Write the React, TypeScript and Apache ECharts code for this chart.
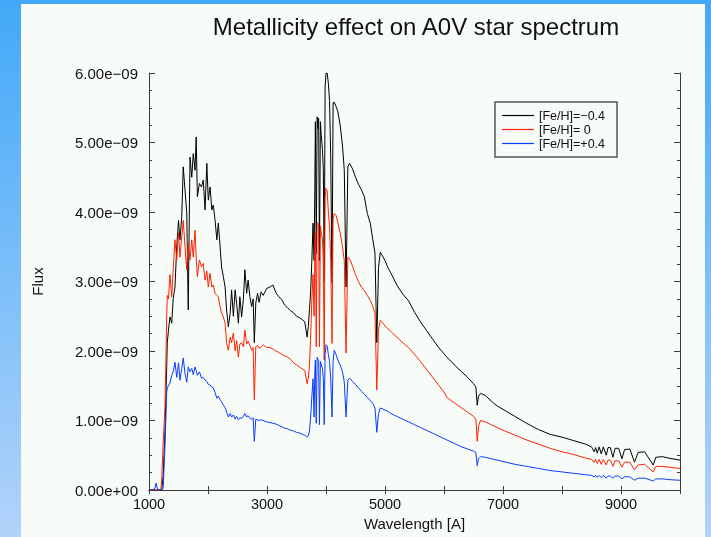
import React, { useEffect, useRef } from "react";
import * as echarts from "echarts";

// Wavelength grid in Angstrom (shared by all three spectra)
const wavelength = [
  1000, 1050, 1100, 1120, 1140, 1160, 1200, 1215, 1240, 1270, 1285, 1300,
  1310, 1330, 1355, 1385, 1410, 1440, 1470, 1500, 1525, 1555,
  1580, 1610, 1640, 1665, 1695, 1725, 1750, 1780, 1800, 1820,
  1855, 1890, 1920, 1950, 1980, 2005, 2035, 2065, 2090, 2120,
  2150, 2175, 2205, 2230, 2260, 2290, 2315, 2345, 2375, 2400,
  2430, 2460, 2485, 2515, 2540, 2570, 2600, 2625, 2655, 2680,
  2710, 2740, 2765, 2785, 2810, 2840, 2865, 2900, 2935, 2995,
  3050, 3100, 3150, 3200, 3250, 3300, 3350, 3400, 3450, 3500, 3550, 3600, 3640, 3680, 3700,
  3720, 3740, 3760, 3780, 3798, 3810, 3820, 3835, 3850, 3865,
  3875, 3889, 3905, 3920, 3940, 3955, 3970, 3985, 4000, 4020,
  4040, 4060, 4080, 4102, 4120, 4140, 4170, 4200, 4240, 4280,
  4310, 4340, 4370, 4400, 4450, 4500, 4550, 4600, 4650, 4700,
  4750, 4790, 4830, 4861, 4890, 4920, 4950,
  5000, 5050, 5100, 5200, 5300, 5400, 5500, 5600, 5700, 5800,
  5900, 6000, 6050, 6100, 6200, 6300, 6400, 6500, 6540, 6563,
  6585, 6620, 6700, 6800, 6900, 7000, 7200, 7400, 7600, 7800,
  8000, 8200, 8400, 8500, 8545, 8570, 8598, 8630, 8665, 8700,
  8750, 8780, 8820, 8863, 8900, 8960, 9015, 9060, 9150, 9229,
  9290, 9400, 9546, 9590, 9700, 9800, 10000,
];

// Flux in units of 1e-9
const fluxMinus04 = [
  0, 0, 0, 0, 0, 0, 0, 0, 0.2, 0.82, 1.3, 1.77,
  2.12, 2.3, 2.49, 2.4, 2.75, 2.92, 3.5, 3.88, 3.6, 3.93,
  4.65, 4.32, 3.99, 2.59, 4.79, 4.5, 4.84, 4.6, 5.08, 4.22,
  4.41, 4.36, 4.46, 4.03, 4.7, 4.17, 4.36, 4.03, 4.1, 3.88,
  3.6, 3.84, 3.5, 3.21, 3.07, 2.92, 2.59, 2.35, 2.54, 2.88,
  2.5, 2.88, 2.69, 2.4, 2.78, 2.49, 2.75, 3.17, 2.83, 3.02,
  2.78, 2.64, 2.75, 2.12, 2.69, 2.83, 2.7, 2.85, 2.8, 2.9,
  2.92, 2.95, 2.84, 2.78, 2.74, 2.66, 2.62, 2.58, 2.55, 2.5, 2.48, 2.45, 2.42, 2.2, 2.35,
  2.6, 2.85, 3.3, 3.84, 3.3, 4.3, 5.3, 3.4, 5.37, 5.2,
  5.35, 3.3, 5.3, 5.1, 4.9, 4.6, 3.0, 5.8, 6.0, 6.0,
  5.85, 5.6, 4.8, 2.98, 5.57, 5.58, 5.52, 5.45, 5.25, 4.95,
  4.6, 2.92, 4.65, 4.7, 4.62, 4.5, 4.4, 4.32, 4.22, 3.98,
  3.84, 3.62, 3.41, 2.12, 3.2, 3.42, 3.38,
  3.3, 3.2, 3.12, 2.95, 2.82, 2.72, 2.56, 2.42, 2.3, 2.18,
  2.06, 1.96, 1.91, 1.87, 1.78, 1.7, 1.62, 1.53, 1.48, 1.22,
  1.35, 1.39, 1.36, 1.28, 1.21, 1.16, 1.06, 0.96, 0.87, 0.8,
  0.76, 0.71, 0.66, 0.62, 0.55, 0.61, 0.53, 0.62, 0.52, 0.62,
  0.5, 0.61, 0.61, 0.47, 0.6, 0.6, 0.45, 0.58, 0.59, 0.4,
  0.54, 0.55, 0.36, 0.47, 0.48, 0.46, 0.43,
];

const fluxSolar = [
  0, 0, 0, 0, 0, 0, 0, 0.14, 0.68, 1.19, 1.77, 2.49,
  2.8, 2.75, 3.1, 2.78, 3.17, 3.6, 3.31, 3.7, 3.35, 3.64,
  3.88, 3.5, 3.17, 3.55, 3.31, 3.6, 3.35, 3.74, 3.35, 3.07,
  3.31, 3.21, 3.26, 3.02, 3.15, 2.92, 3.12, 2.92, 2.95, 2.83,
  2.8, 2.78, 2.64, 2.54, 2.49, 2.4, 2.12, 2.01, 2.2, 2.12,
  2.26, 2.0, 2.15, 1.91, 2.1, 2.12, 2.06, 2.3, 2.1, 2.14,
  2.08, 2.01, 2.05, 1.3, 2.06, 2.08, 2.04, 2.06, 2.09, 2.05,
  2.05, 2.03, 2.0, 1.98, 1.95, 1.93, 1.91, 1.88, 1.83, 1.8, 1.77, 1.74, 1.72, 1.53, 1.6,
  1.8, 2.2, 2.73, 3.1, 2.5, 3.31, 3.7, 2.06, 3.84, 3.84,
  3.8, 2.06, 3.8, 3.7, 3.6, 3.3, 1.87, 4.2, 4.34, 4.3,
  4.0, 3.8, 3.3, 2.11, 3.9, 3.98, 3.95, 3.85, 3.7, 3.5,
  3.3, 1.97, 3.35, 3.33, 3.22, 3.1, 3.0, 2.92, 2.87, 2.8,
  2.73, 2.65, 2.54, 1.44, 2.3, 2.44, 2.42,
  2.36, 2.32, 2.28, 2.2, 2.12, 2.05, 1.95, 1.85, 1.74, 1.63,
  1.52, 1.41, 1.33, 1.3, 1.24, 1.18, 1.12, 1.06, 1.02, 0.7,
  0.92, 1.0, 0.98, 0.94, 0.9, 0.86, 0.79, 0.72, 0.66, 0.6,
  0.55, 0.51, 0.46, 0.44, 0.4, 0.44, 0.38, 0.44, 0.37, 0.44,
  0.36, 0.43, 0.43, 0.34, 0.42, 0.42, 0.33, 0.4, 0.4, 0.29,
  0.36, 0.37, 0.26, 0.34, 0.34, 0.33, 0.31,
];

const fluxPlus04 = [
  0, 0, 0.02, 0.1, 0.03, 0, 0, 0, 0.02, 0.62, 1.0, 1.4,
  1.47, 1.5, 1.54, 1.65, 1.7, 1.84, 1.62, 1.83, 1.58, 1.75,
  1.9, 1.68, 1.55, 1.77, 1.7, 1.75, 1.66, 1.77, 1.72, 1.65,
  1.7, 1.61, 1.62, 1.58, 1.56, 1.52, 1.51, 1.48, 1.47, 1.4,
  1.32, 1.35, 1.3, 1.27, 1.22, 1.19, 1.12, 1.05, 1.1, 1.05,
  1.08, 1.02, 1.06, 1.01, 1.04, 1.03, 1.06, 1.1, 1.05, 1.07,
  1.03, 1.02, 1.04, 0.7, 1.02, 1.01, 1.0, 1.01, 1.0, 0.98,
  0.97, 0.96, 0.95, 0.93, 0.91, 0.89, 0.88, 0.86, 0.85, 0.83, 0.82, 0.8, 0.79, 0.76, 0.78,
  0.85, 1.05, 1.34, 1.6, 1.05, 1.7, 1.87, 0.96, 1.91, 1.88,
  1.85, 0.94, 1.85, 1.8, 1.75, 1.6, 0.94, 1.95, 2.09, 2.07,
  1.95, 1.85, 1.6, 1.05, 1.85, 2.01, 1.95, 1.87, 1.8, 1.7,
  1.55, 1.05, 1.58, 1.61, 1.56, 1.52, 1.47, 1.42, 1.38, 1.33,
  1.29, 1.25, 1.18, 0.83, 1.1, 1.18, 1.17,
  1.15, 1.13, 1.1, 1.06, 1.02, 0.98, 0.94, 0.9, 0.86, 0.82,
  0.78, 0.74, 0.72, 0.7, 0.66, 0.62, 0.59, 0.56, 0.54, 0.35,
  0.45, 0.48, 0.47, 0.45, 0.43, 0.41, 0.37, 0.34, 0.31, 0.28,
  0.26, 0.24, 0.22, 0.21, 0.19, 0.21, 0.18, 0.21, 0.18, 0.21,
  0.17, 0.2, 0.2, 0.17, 0.2, 0.2, 0.16, 0.19, 0.19, 0.14,
  0.17, 0.17, 0.13, 0.16, 0.16, 0.15, 0.14,
];

const seriesNames = ["[Fe/H]=\u22120.4", "[Fe/H]= 0", "[Fe/H]=+0.4"];
const seriesColors = ["#000000", "#ff2200", "#0a3cff"];
const seriesFlux = [fluxMinus04, fluxSolar, fluxPlus04];

const FONT = "'Liberation Sans', Arial, Helvetica, sans-serif";

export default function App() {
  const ref = useRef<HTMLDivElement>(null);
  useEffect(() => {
    if (!ref.current) return;
    const chart = echarts.init(ref.current, undefined, { renderer: "svg" });
    const axisColor = "#3a3a3a";
    const yFmt = (v: number) => (v === 0 ? "0.00e+00" : `${v.toFixed(2)}e\u221209`);
    chart.setOption({
      animation: false,
      textStyle: { fontFamily: FONT },
      graphic: [
        {
          type: "rect",
          silent: true,
          z: -10,
          shape: { x: 0, y: 0, width: 711, height: 537 },
          style: {
            fill: new echarts.graphic.LinearGradient(0, 0, 0, 1, [
              { offset: 0, color: "#42a9f8" },
              { offset: 1, color: "#b2d3fa" },
            ]),
          },
        },
        {
          type: "rect",
          silent: true,
          z: -9,
          shape: { x: 21, y: 4, width: 684, height: 533 },
          style: { fill: "#f8fcf8" },
        },
      ],
      title: {
        text: "Metallicity effect on A0V star spectrum",
        left: 411,
        top: 9,
        textAlign: "center",
        textStyle: { fontFamily: FONT, fontSize: 24, fontWeight: "normal", color: "#111" },
      },
      legend: {
        orient: "vertical",
        left: 495,
        top: 102,
        padding: [7, 12, 7, 7],
        itemWidth: 32,
        itemHeight: 14,
        itemGap: 1,
        icon: "path://M0,0 L32,0 L32,1.2 L0,1.2 Z",
        borderColor: "#555",
        borderWidth: 1.5,
        borderRadius: 0,
        data: seriesNames,
        textStyle: { fontFamily: FONT, fontSize: 12.5, color: "#111" },
      },
      grid: { left: 149, top: 73, right: 31, bottom: 47, containLabel: false },
      xAxis: [
        {
          type: "value",
          min: 1000,
          max: 10000,
          interval: 1000,
          name: "Wavelength [A]",
          nameLocation: "middle",
          nameGap: 25,
          nameTextStyle: { fontFamily: FONT, fontSize: 15, color: "#111" },
          axisLine: { show: true, lineStyle: { color: axisColor, width: 1 } },
          axisTick: { show: true, inside: true, length: 4, lineStyle: { color: axisColor } },
          axisLabel: {
            margin: 6,
            fontFamily: FONT,
            fontSize: 14.5,
            color: "#111",
            formatter: (v: number) => ((v / 1000) % 2 === 1 ? String(v) : ""),
          },
          splitLine: { show: false },
        },
        {
          type: "value",
          position: "top",
          min: 1000,
          max: 10000,
          interval: 1000,
          axisLine: { show: true, lineStyle: { color: axisColor, width: 1 } },
          axisTick: { show: true, inside: true, length: 4, lineStyle: { color: axisColor } },
          axisLabel: { show: false },
          splitLine: { show: false },
        },
      ],
      yAxis: [
        {
          type: "value",
          min: 0,
          max: 6,
          interval: 1,
          name: "Flux",
          nameLocation: "middle",
          nameRotate: 90,
          nameGap: 104,
          nameTextStyle: { fontFamily: FONT, fontSize: 15, color: "#111" },
          axisLine: { show: true, lineStyle: { color: axisColor, width: 1 } },
          axisTick: { show: true, inside: true, length: 6, lineStyle: { color: axisColor } },
          minorTick: { show: true, splitNumber: 4, length: 3, lineStyle: { color: axisColor } },
          axisLabel: { margin: 11, fontFamily: FONT, fontSize: 15, color: "#111", formatter: yFmt },
          splitLine: { show: false },
          minorSplitLine: { show: false },
        },
        {
          type: "value",
          position: "right",
          min: 0,
          max: 6,
          interval: 1,
          axisLine: { show: true, lineStyle: { color: axisColor, width: 1 } },
          axisTick: { show: true, inside: true, length: 6, lineStyle: { color: axisColor } },
          minorTick: { show: true, splitNumber: 4, length: 3, lineStyle: { color: axisColor } },
          axisLabel: { show: false },
          splitLine: { show: false },
          minorSplitLine: { show: false },
        },
      ],
      series: seriesNames.map((name, i) => ({
        name,
        type: "line",
        xAxisIndex: 0,
        yAxisIndex: 0,
        symbol: "none",
        showSymbol: false,
        clip: true,
        color: seriesColors[i],
        lineStyle: { color: seriesColors[i], width: 1 },
        data: wavelength.map((w, k) => [w, seriesFlux[i][k]]),
      })),
    });
    return () => chart.dispose();
  }, []);
  return (
    <div
      ref={ref}
      style={{ position: "fixed", left: 0, top: 0, width: 711, height: 537 }}
    />
  );
}
